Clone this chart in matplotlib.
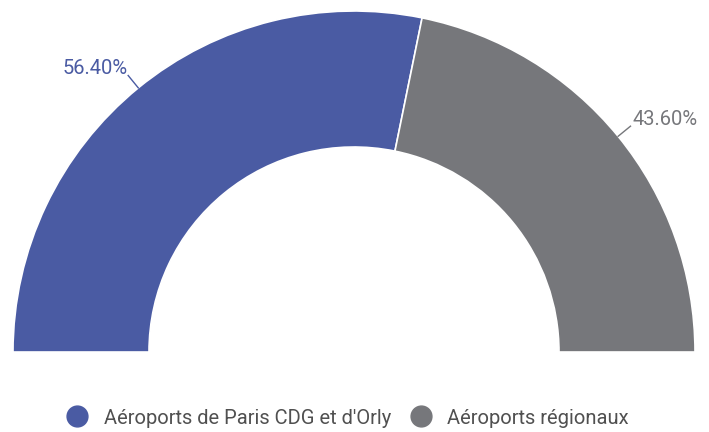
import matplotlib
matplotlib.use("Agg")
import matplotlib.pyplot as plt
from matplotlib.lines import Line2D
import numpy as np

categories = ["Aéroports de Paris CDG et d'Orly", "Aéroports régionaux"]
values = [56.40, 43.60]
labels = ["56.40%", "43.60%"]
colors = ["#4a5ba3", "#76777b"]

plt.rcParams['font.family'] = ['Roboto', 'DejaVu Sans']

W, H = 709, 432
fig = plt.figure(figsize=(W/100, H/100), dpi=100)
ax = fig.add_axes([0, 0, 1, 1])

cx, cy = 354, H - 352
R = 341
ring = 136

total = sum(values)
wedges, _ = ax.pie(values + [total], colors=colors + ["none"], startangle=180,
                   counterclock=False, radius=R, center=(cx, cy),
                   wedgeprops=dict(width=ring, edgecolor="white", linewidth=1.2))
wedges[-1].set_visible(False)

start = 180.0
for v, lab, col in zip(values, labels, colors):
    span = v / total * 180
    mid = np.deg2rad(start - span / 2)
    start -= span
    x0, y0 = cx + R * np.cos(mid), cy + R * np.sin(mid)
    x1, y1 = cx + (R + 16) * np.cos(mid), cy + (R + 16) * np.sin(mid)
    ax.plot([x0, x1], [y0, y1], color=col, lw=1)
    ha = "right" if np.cos(mid) < 0 else "left"
    ax.text(x1 + (-1 if ha == "right" else 2), y1 + 7, lab, color=col,
            fontsize=14.5, ha=ha, va="center")

ax.set_xlim(0, W)
ax.set_ylim(0, H)
ax.set_aspect("equal")
ax.axis("off")

handles = [Line2D([], [], marker="o", linestyle="none", markersize=15,
                  markerfacecolor=c, markeredgecolor=c) for c in colors]
ax.legend(handles, categories, loc="center", bbox_to_anchor=(343/W, 1 - 418/H),
          ncol=2, frameon=False, fontsize=14.5, handletextpad=0.3,
          columnspacing=0.5, labelcolor="#505050")

fig.savefig("out.png", dpi=100)
